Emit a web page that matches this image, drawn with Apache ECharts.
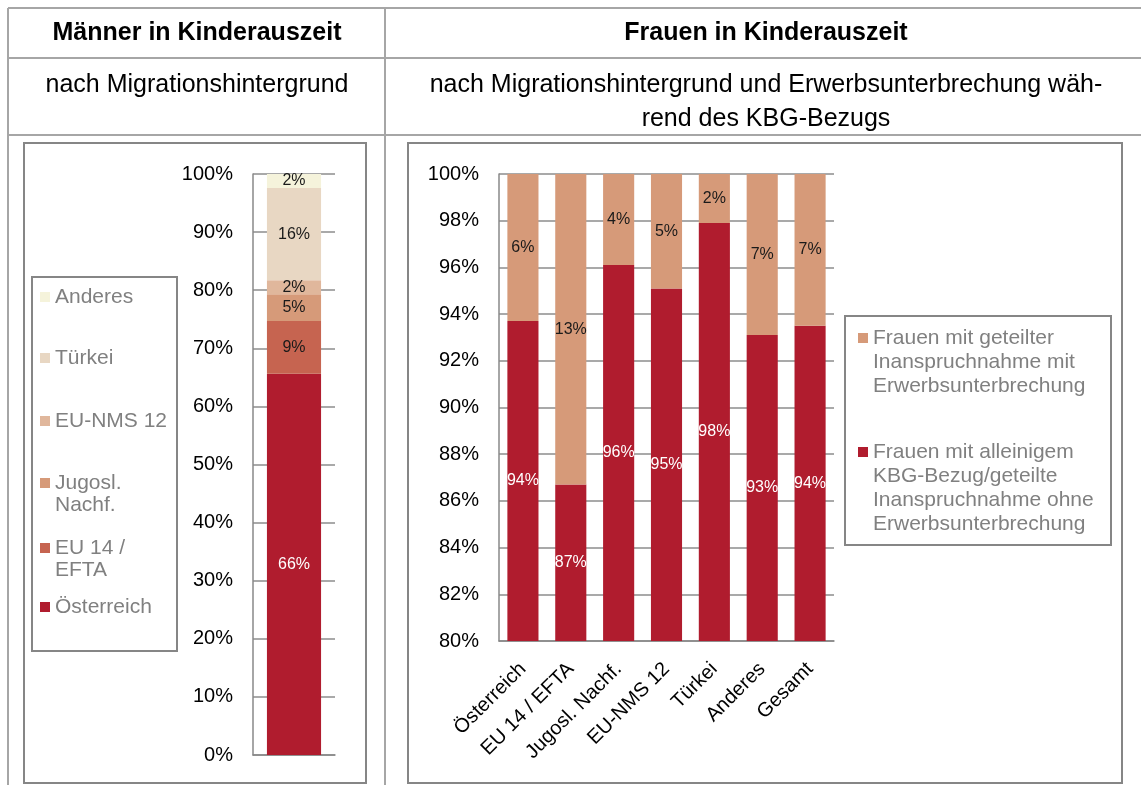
<!DOCTYPE html>
<html>
<head>
<meta charset="utf-8">
<script src="https://cdn.jsdelivr.net/npm/echarts@6/dist/echarts.min.js"></script>
<style>
  html, body { margin: 0; padding: 0; background: #fff; }
  #chart { width: 1141px; height: 785px; }
</style>
</head>
<body>
<div id="chart"></div>
<script>
// Männer in Kinderauszeit, nach Migrationshintergrund (von unten nach oben gestapelt)
const menGroups = ["Österreich", "EU 14 / EFTA", "Jugosl. Nachf.", "EU-NMS 12", "Türkei", "Anderes"];
const menLegendLabels = ["Österreich", "EU 14 /\nEFTA", "Jugosl.\nNachf.", "EU-NMS 12", "Türkei", "Anderes"];
const menValues = [65.6, 9.1, 4.6, 2.4, 15.9, 2.4];

// Frauen in Kinderauszeit, nach Migrationshintergrund und Erwerbsunterbrechung
const womenCategories = ["Österreich", "EU 14 / EFTA", "Jugosl. Nachf.", "EU-NMS 12", "Türkei", "Anderes", "Gesamt"];
const womenSeriesNames = [
  "Frauen mit alleinigem KBG-Bezug/geteilte Inanspruchnahme ohne Erwerbsunterbrechung",
  "Frauen mit geteilter Inanspruchnahme mit Erwerbsunterbrechung"
];
const womenLegendLabels = [
  "Frauen mit alleinigem\nKBG-Bezug/geteilte\nInanspruchnahme ohne\nErwerbsunterbrechung",
  "Frauen mit geteilter\nInanspruchnahme mit\nErwerbsunterbrechung"
];
const womenOhne = [93.7, 86.7, 96.1, 95.1, 97.9, 93.1, 93.5];
const womenMit = [6.3, 13.3, 3.9, 4.9, 2.1, 6.9, 6.5];

// Tabellen-Texte
const headLeft = "Männer in Kinderauszeit";
const headRight = "Frauen in Kinderauszeit";
const subLeft = "nach Migrationshintergrund";
const subRight = "nach Migrationshintergrund und Erwerbsunterbrechung wäh-\nrend des KBG-Bezugs";

const menColors = ["#B01C2E", "#C66450", "#D69A79", "#E0B79C", "#E8D7C3", "#F5F3DB"];
const womenColors = ["#B01C2E", "#D69A79"];
const FONT = '"Liberation Sans", Arial, sans-serif';
const tableLine = { stroke: "#a6a6a6", lineWidth: 2 };
const frameLine = { fill: "none", stroke: "#868686", lineWidth: 2 };
const pct = p => Math.round(p.value) + "%";

// Legende: ein Eintrag pro Komponente, Symbol auf Höhe der ersten Zeile
// (Leerzeilen davor, damit die erste Textzeile mittig zum Symbol steht)
function legendItem(name, label, x, yIcon, lineHeight) {
  const lines = label.split("\n").length;
  const shown = "\n".repeat(lines - 1) + label;
  return {
    data: [{ name, icon: "rect" }],
    formatter: () => shown,
    orient: "vertical",
    left: x,
    top: yIcon - (2 * lines - 1) * lineHeight / 2,
    padding: 0,
    itemWidth: 10,
    itemHeight: 10,
    selectedMode: false,
    textStyle: { fontFamily: FONT, fontSize: 21, color: "#808080", lineHeight }
  };
}

const menLegendY = [607, 548, 483, 421, 358, 297];
const womenLegendY = [452, 338];

const valueAxisBase = {
  type: "value",
  axisLine: { show: true, lineStyle: { color: "#888", width: 1.5 } },
  axisTick: { show: false },
  splitLine: { lineStyle: { color: "#8c8c8c", width: 1.5 } },
  axisLabel: { formatter: "{value}%", fontFamily: FONT, fontSize: 20, color: "#000", margin: 20 }
};

const option = {
  animation: false,
  grid: [
    { left: 253, top: 174, width: 82, height: 581 },
    { left: 499, top: 174, width: 335, height: 467 }
  ],
  xAxis: [
    {
      gridIndex: 0, type: "category", data: ["Männer"],
      axisLine: { lineStyle: { color: "#888", width: 1.5 } },
      axisTick: { show: false }, axisLabel: { show: false }
    },
    {
      gridIndex: 1, type: "category", data: womenCategories,
      axisLine: { lineStyle: { color: "#888", width: 1.5 } },
      axisTick: { show: false },
      axisLabel: { rotate: 45, fontFamily: FONT, fontSize: 20, color: "#000", margin: 25, interval: 0 }
    }
  ],
  yAxis: [
    { ...valueAxisBase, gridIndex: 0, min: 0, max: 100, interval: 10 },
    { ...valueAxisBase, gridIndex: 1, min: 80, max: 100, interval: 2 }
  ],
  legend: [
    ...menGroups.map((g, i) => legendItem(g, menLegendLabels[i], 40, menLegendY[i], 22)),
    ...womenSeriesNames.map((n, i) => legendItem(n, womenLegendLabels[i], 858, womenLegendY[i], 24))
  ],
  series: [
    ...menGroups.map((g, i) => ({
      name: g,
      type: "bar",
      stack: "men",
      xAxisIndex: 0, yAxisIndex: 0,
      barWidth: "66%",
      data: [menValues[i]],
      itemStyle: { color: menColors[i] },
      label: {
        show: true, position: "inside", formatter: pct,
        fontFamily: FONT, fontSize: 16, color: i === 0 ? "#fff" : "#1a1a1a"
      }
    })),
    ...[womenOhne, womenMit].map((d, i) => ({
      name: womenSeriesNames[i],
      type: "bar",
      stack: "women",
      xAxisIndex: 1, yAxisIndex: 1,
      barWidth: "65%",
      data: d,
      itemStyle: { color: womenColors[i] },
      label: {
        show: true, position: "inside", formatter: pct,
        fontFamily: FONT, fontSize: 16, color: i === 0 ? "#fff" : "#1a1a1a"
      }
    }))
  ],
  graphic: [
    // Tabellenlinien
    { type: "line", shape: { x1: 8, y1: 8, x2: 1141, y2: 8 }, style: tableLine },
    { type: "line", shape: { x1: 8, y1: 58, x2: 1141, y2: 58 }, style: tableLine },
    { type: "line", shape: { x1: 8, y1: 135, x2: 1141, y2: 135 }, style: tableLine },
    { type: "line", shape: { x1: 8, y1: 8, x2: 8, y2: 785 }, style: tableLine },
    { type: "line", shape: { x1: 385, y1: 8, x2: 385, y2: 785 }, style: tableLine },
    // Überschriften
    { type: "text", style: { text: headLeft, x: 197, y: 33, align: "center", verticalAlign: "middle",
      fontFamily: FONT, fontSize: 25, fontWeight: "bold", fill: "#000" } },
    { type: "text", style: { text: headRight, x: 766, y: 33, align: "center", verticalAlign: "middle",
      fontFamily: FONT, fontSize: 25, fontWeight: "bold", fill: "#000" } },
    { type: "text", style: { text: subLeft, x: 197, y: 85, align: "center", verticalAlign: "middle",
      fontFamily: FONT, fontSize: 25, fill: "#000" } },
    { type: "text", style: { text: subRight, x: 766, y: 102, align: "center", verticalAlign: "middle",
      fontFamily: FONT, fontSize: 25, lineHeight: 34, fill: "#000" } },
    // Diagrammrahmen
    { type: "rect", shape: { x: 24, y: 143, width: 342, height: 640 }, style: frameLine },
    { type: "rect", shape: { x: 408, y: 143, width: 714, height: 640 }, style: frameLine },
    // Legendenrahmen
    { type: "rect", shape: { x: 32, y: 277, width: 145, height: 374 }, style: frameLine },
    { type: "rect", shape: { x: 845, y: 316, width: 266, height: 229 }, style: frameLine }
  ]
};

const chart = echarts.init(document.getElementById("chart"), null, { renderer: "canvas" });
chart.setOption(option);
</script>
</body>
</html>
